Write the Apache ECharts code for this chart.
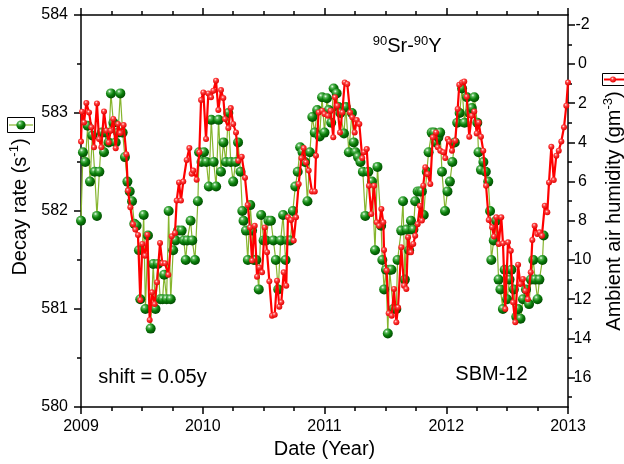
<!DOCTYPE html>
<html>
<head>
<meta charset="utf-8">
<title>90Sr-90Y decay rate and ambient air humidity</title>
<script src="https://cdn.jsdelivr.net/npm/echarts@6/dist/echarts.min.js"></script>
<style>
  html, body { margin: 0; padding: 0; background: #fff; }
  #chart { width: 624px; height: 464px; }
</style>
</head>
<body>
<div id="chart"></div>
<script>
// Weekly decay-rate measurements (decimal year, s^-1)
const decayDates = [
  2009.000, 2009.016, 2009.035, 2009.055, 2009.074, 2009.093, 2009.112, 2009.131, 2009.151, 2009.170,
  2009.189, 2009.208, 2009.227, 2009.246, 2009.266, 2009.285, 2009.304, 2009.323, 2009.342, 2009.361,
  2009.381, 2009.400, 2009.419, 2009.438, 2009.457, 2009.476, 2009.487, 2009.515, 2009.529, 2009.550,
  2009.572, 2009.593, 2009.612, 2009.632, 2009.651, 2009.670, 2009.683, 2009.703, 2009.720, 2009.737,
  2009.757, 2009.777, 2009.797, 2009.827, 2009.845, 2009.860, 2009.873, 2009.900, 2009.914, 2009.936,
  2009.960, 2009.970, 2009.990, 2010.010, 2010.030, 2010.050, 2010.070, 2010.090, 2010.110, 2010.130,
  2010.150, 2010.170, 2010.190, 2010.210, 2010.230, 2010.250, 2010.270, 2010.290, 2010.310, 2010.325,
  2010.335, 2010.355, 2010.370, 2010.390, 2010.405, 2010.420, 2010.440, 2010.460, 2010.480, 2010.500,
  2010.520, 2010.540, 2010.560, 2010.580, 2010.600, 2010.620, 2010.640, 2010.660, 2010.680, 2010.700,
  2010.720, 2010.740, 2010.760, 2010.780, 2010.800, 2010.820, 2010.840, 2010.860, 2010.880, 2010.900,
  2010.920, 2010.940, 2010.960, 2010.980, 2011.000, 2011.020, 2011.035, 2011.055, 2011.075, 2011.100,
  2011.115, 2011.130, 2011.160, 2011.175, 2011.200, 2011.225, 2011.240, 2011.255, 2011.275, 2011.295,
  2011.315, 2011.335, 2011.360, 2011.390, 2011.415, 2011.435, 2011.465, 2011.475, 2011.490, 2011.505,
  2011.520, 2011.535, 2011.550, 2011.565, 2011.590, 2011.600, 2011.630, 2011.645, 2011.660, 2011.675,
  2011.695, 2011.710, 2011.730, 2011.745, 2011.765, 2011.785, 2011.800, 2011.815, 2011.840, 2011.855,
  2011.880, 2011.900, 2011.915, 2011.935, 2011.950, 2011.965, 2011.990, 2012.010, 2012.030, 2012.050,
  2012.070, 2012.090, 2012.110, 2012.130, 2012.150, 2012.170, 2012.190, 2012.210, 2012.230, 2012.255,
  2012.265, 2012.285, 2012.305, 2012.325, 2012.345, 2012.360, 2012.370, 2012.390, 2012.410, 2012.430,
  2012.445, 2012.465, 2012.480, 2012.500, 2012.520, 2012.535, 2012.555, 2012.575, 2012.590, 2012.610,
  2012.630, 2012.655, 2012.680, 2012.695, 2012.715, 2012.730, 2012.750, 2012.765, 2012.790, 2012.800
];
const decayRates = [
  581.90, 582.60, 582.50, 582.87, 582.30, 582.77, 582.40, 581.95, 582.40, 582.80,
  582.60, 582.80, 582.70, 583.20, 582.90, 582.70, 582.80, 583.20, 582.80, 582.55,
  582.30, 582.20, 582.10, 581.87, 581.85, 581.60, 581.10, 581.96, 581.00, 581.75,
  580.80, 581.46, 581.00, 581.46, 581.10, 581.10, 581.35, 581.10, 582.00, 581.10,
  581.60, 581.70, 581.80, 581.80, 581.70, 581.50, 581.70, 581.90, 581.70, 581.50,
  582.10, 582.60, 582.50, 582.60, 582.50, 582.25, 582.93, 582.50, 582.25, 582.93,
  582.40, 582.70, 582.50, 583.00, 582.50, 582.30, 582.50, 582.70, 582.40, 582.00,
  581.90, 581.80, 581.50, 582.06, 581.80, 581.50, 581.50, 581.20, 581.96, 581.70,
  581.70, 581.90, 581.90, 581.70, 581.50, 581.20, 581.70, 581.96, 581.50, 581.70,
  581.70, 582.00, 582.25, 582.40, 582.65, 582.60, 582.50, 582.10, 582.60, 582.96,
  582.80, 583.03, 582.76, 583.16, 582.80, 583.15, 583.03, 582.90, 583.25, 583.20,
  583.06, 583.00, 582.79, 583.06, 582.60, 583.00, 582.70, 582.60, 582.55, 582.50,
  582.40, 581.95, 582.40, 582.30, 581.60, 582.45, 581.85, 581.50, 581.20, 581.40,
  580.75, 581.40, 581.40, 581.00, 581.00, 581.50, 581.80, 582.10, 581.30, 581.81,
  581.60, 581.90, 581.81, 582.10, 582.20, 582.20, 582.20, 581.96, 582.40, 582.60,
  582.80, 582.80, 582.70, 582.75, 582.80, 582.40, 582.00, 582.20, 582.30, 582.50,
  582.70, 582.90, 583.00, 583.25, 582.90, 583.16, 583.00, 583.05, 583.16, 582.90,
  582.60, 582.42, 582.50, 582.40, 582.30, 582.00, 581.50, 581.70, 581.90, 581.30,
  581.20, 581.00, 581.40, 581.10, 581.30, 581.40, 581.20, 580.92, 581.00, 580.90,
  581.10, 581.20, 581.05, 581.30, 581.50, 581.30, 581.10, 581.30, 581.50, 581.75
];

// Ambient air humidity (decimal year, g m^-3), shifted by 0.05 y
const humidDates = [
  2009.000, 2009.008, 2009.025, 2009.044, 2009.066, 2009.085, 2009.107, 2009.131, 2009.148, 2009.167,
  2009.189, 2009.208, 2009.227, 2009.244, 2009.265, 2009.285, 2009.304, 2009.323, 2009.350, 2009.372,
  2009.386, 2009.405, 2009.427, 2009.446, 2009.468, 2009.487, 2009.503, 2009.526, 2009.545, 2009.564,
  2009.583, 2009.605, 2009.624, 2009.649, 2009.668, 2009.690, 2009.717, 2009.745, 2009.772, 2009.786,
  2009.805, 2009.821, 2009.840, 2009.868, 2009.890, 2009.909, 2009.922, 2009.950, 2009.972, 2009.986,
  2010.005, 2010.027, 2010.046, 2010.068, 2010.087, 2010.109, 2010.128, 2010.150, 2010.169, 2010.183,
  2010.210, 2010.230, 2010.250, 2010.273, 2010.292, 2010.320, 2010.347, 2010.369, 2010.388, 2010.405,
  2010.427, 2010.446, 2010.465, 2010.487, 2010.509, 2010.528, 2010.547, 2010.569, 2010.591, 2010.610,
  2010.629, 2010.645, 2010.665, 2010.686, 2010.700, 2010.725, 2010.747, 2010.766, 2010.788, 2010.810,
  2010.829, 2010.848, 2010.870, 2010.897, 2010.920, 2010.930, 2010.952, 2010.980, 2011.000, 2011.028,
  2011.050, 2011.072, 2011.086, 2011.105, 2011.127, 2011.146, 2011.166, 2011.187, 2011.210, 2011.228,
  2011.248, 2011.265, 2011.286, 2011.310, 2011.324, 2011.347, 2011.365, 2011.384, 2011.407, 2011.428,
  2011.448, 2011.467, 2011.483, 2011.489, 2011.510, 2011.527, 2011.552, 2011.571, 2011.590, 2011.604,
  2011.631, 2011.653, 2011.672, 2011.686, 2011.710, 2011.729, 2011.745, 2011.765, 2011.784, 2011.800,
  2011.811, 2011.828, 2011.847, 2011.869, 2011.889, 2011.916, 2011.930, 2011.951, 2011.976, 2011.992,
  2012.012, 2012.025, 2012.047, 2012.074, 2012.094, 2012.107, 2012.130, 2012.148, 2012.168, 2012.189,
  2012.209, 2012.230, 2012.250, 2012.266, 2012.285, 2012.304, 2012.327, 2012.349, 2012.376, 2012.392,
  2012.411, 2012.431, 2012.452, 2012.466, 2012.485, 2012.507, 2012.530, 2012.548, 2012.567, 2012.590,
  2012.608, 2012.630, 2012.649, 2012.670, 2012.694, 2012.707, 2012.726, 2012.748, 2012.767, 2012.786,
  2012.809, 2012.830, 2012.844, 2012.863, 2012.883, 2012.904, 2012.924, 2012.945, 2012.967, 2012.986,
  2013.000
];
const humidValues = [
  3.96, 2.43, 2.98, 1.99, 2.47, 3.23, 4.25, 2.01, 3.83, 4.25,
  2.42, 3.40, 4.00, 3.40, 2.80, 4.30, 3.06, 3.52, 3.11, 4.60,
  6.46, 7.31, 8.17, 8.45, 8.72, 12.04, 9.18, 9.78, 8.71, 13.06,
  11.65, 12.25, 11.14, 9.13, 10.17, 10.17, 10.75, 8.79, 8.62, 6.97,
  6.04, 6.97, 6.00, 4.90, 4.29, 5.60, 5.44, 5.90, 4.50, 1.84,
  1.45, 3.83, 1.50, 1.70, 1.36, 0.85, 2.35, 1.33, 1.74, 2.81,
  3.27, 2.25, 3.06, 3.49, 4.93, 4.73, 5.80, 7.20, 8.34, 10.03,
  8.25, 10.85, 10.38, 10.63, 8.34, 9.60, 11.09, 12.84, 12.79, 11.06,
  12.38, 12.16, 10.63, 11.31, 7.82, 7.96, 9.00, 7.82, 6.12, 4.80,
  4.29, 5.02, 5.44, 6.50, 6.50, 4.68, 2.47, 2.38, 2.55, 2.64,
  2.38, 3.74, 1.70, 2.13, 3.49, 2.47, 0.94, 1.02, 2.47, 2.72,
  3.49, 2.86, 3.06, 4.80, 4.50, 4.34, 6.21, 7.65, 6.21, 8.08,
  8.25, 7.40, 8.08, 9.49, 10.54, 12.72, 12.84, 11.48, 13.18, 12.42,
  9.35, 11.31, 11.48, 8.84, 9.61, 9.18, 8.76, 8.17, 7.23, 7.99,
  6.21, 5.27, 5.61, 6.12, 3.74, 3.49, 4.25, 4.42, 4.50, 4.80,
  3.83, 3.95, 4.42, 3.91, 2.30, 1.06, 0.94, 0.89, 1.67, 3.71,
  2.64, 2.42, 3.54, 2.98, 3.71, 4.42, 6.21, 7.96, 8.33, 8.80,
  7.82, 9.18, 7.82, 9.15, 12.50, 9.10, 9.53, 12.16, 13.18, 10.24,
  11.22, 10.97, 11.57, 12.00, 10.63, 8.98, 8.25, 8.67, 8.59, 8.76,
  7.23, 7.57, 6.04, 4.22, 5.92, 4.68, 4.42, 3.95, 3.23, 2.13,
  0.94
];

// Axis tick values
const yearTicks = [2009, 2010, 2011, 2012, 2013];
const humidMajorTicks = [-2, 0, 2, 4, 6, 8, 10, 12, 14, 16];
const humidMinorTicks = [-1, 1, 3, 5, 7, 9, 11, 13, 15, 17];

const FONT = 'Liberation Sans, Arial, Helvetica, sans-serif';
const GREEN_LINE = '#86b52e';
const RED = '#ff0000';

const sphereGreen = () => new echarts.graphic.RadialGradient(0.36, 0.3, 0.72, [
  { offset: 0, color: '#f4fff4' },
  { offset: 0.22, color: '#58b858' },
  { offset: 0.55, color: '#0b800b' },
  { offset: 1, color: '#004a00' }
]);
const sphereRed = () => new echarts.graphic.RadialGradient(0.4, 0.35, 0.65, [
  { offset: 0, color: '#ffe4e4' },
  { offset: 0.35, color: '#ff4040' },
  { offset: 1, color: '#e00000' }
]);

const decayData = decayDates.map((d, i) => [d, decayRates[i]]);
const humidData = humidDates.map((d, i) => [d, humidValues[i]]);

const axisLine = { show: true, onZero: false, lineStyle: { color: '#000', width: 1.5 } };
const majorTick = { show: true, inside: false, length: 7, lineStyle: { color: '#000', width: 1.5 } };
const minorTickStyle = { color: '#000', width: 1.5 };
const labelStyle = { color: '#000', fontSize: 16, fontFamily: FONT };
const nameRich = {
  n: { fontSize: 20, lineHeight: 24, fontFamily: FONT, color: '#000' },
  s: { fontSize: 13, lineHeight: 10, verticalAlign: 'top', fontFamily: FONT, color: '#000' }
};

const chart = echarts.init(document.getElementById('chart'), null, { renderer: 'canvas' });

chart.setOption({
  animation: false,
  backgroundColor: '#fff',
  grid: { left: 81, right: 56, top: 15, bottom: 57, containLabel: false, outerBoundsMode: 'none' },
  xAxis: [
    {
      type: 'value', min: yearTicks[0], max: yearTicks[yearTicks.length - 1], interval: 1,
      position: 'bottom',
      name: 'Date (Year)', nameLocation: 'middle', nameGap: 31,
      nameTextStyle: { fontSize: 20, fontFamily: FONT, color: '#000' },
      axisLine: axisLine, axisTick: majorTick,
      minorTick: { show: true, splitNumber: 4, length: 4, lineStyle: minorTickStyle },
      axisLabel: Object.assign({ margin: 12, formatter: v => String(v) }, labelStyle),
      splitLine: { show: false }
    },
    {
      type: 'value', min: yearTicks[0], max: yearTicks[yearTicks.length - 1], interval: 1,
      position: 'top',
      axisLine: axisLine, axisTick: majorTick,
      minorTick: { show: true, splitNumber: 4, length: 4, lineStyle: minorTickStyle },
      axisLabel: { show: false },
      splitLine: { show: false }
    }
  ],
  yAxis: [
    {
      type: 'value', min: 580, max: 584, interval: 1, position: 'left',
      name: '{n|Decay rate (s}{s|-1}{n|)}', nameLocation: 'middle', nameGap: 44, nameRotate: 90,
      nameTextStyle: { rich: nameRich, padding: [0, 0, 0, 8] },
      axisLine: axisLine, axisTick: majorTick,
      minorTick: { show: true, splitNumber: 2, length: 4, lineStyle: minorTickStyle },
      axisLabel: Object.assign({ margin: 13 }, labelStyle),
      splitLine: { show: false }
    },
    {
      type: 'value', min: -2.5, max: 17.5, inverse: true, position: 'right',
      name: '{n|Ambient air humidity (gm}{s|-3}{n|)}', nameLocation: 'middle', nameGap: 33, nameRotate: 90,
      nameTextStyle: { rich: nameRich },
      axisLine: axisLine,
      axisTick: Object.assign({ customValues: humidMajorTicks }, majorTick),
      axisLabel: Object.assign({ customValues: humidMajorTicks, margin: 14.5, align: 'center' }, labelStyle),
      splitLine: { show: false }
    },
    {
      // minor ticks of the humidity axis
      type: 'value', min: -2.5, max: 17.5, inverse: true, position: 'right',
      axisLine: { show: false },
      axisTick: { show: true, inside: false, length: 4, customValues: humidMinorTicks, lineStyle: minorTickStyle },
      axisLabel: { show: false },
      splitLine: { show: false }
    }
  ],
  series: [
    {
      name: 'Decay rate',
      type: 'line',
      xAxisIndex: 0, yAxisIndex: 0,
      data: decayData,
      clip: false,
      symbol: 'circle', symbolSize: 10,
      lineStyle: { color: GREEN_LINE, width: 1.2 },
      itemStyle: { color: sphereGreen(), borderWidth: 0 },
      emphasis: { disabled: true },
      z: 2
    },
    {
      name: 'Ambient air humidity',
      type: 'line',
      xAxisIndex: 0, yAxisIndex: 1,
      data: humidData,
      clip: false,
      symbol: 'circle', symbolSize: 6,
      lineStyle: { color: RED, width: 2.2 },
      itemStyle: { color: sphereRed(), borderWidth: 0 },
      emphasis: { disabled: true },
      z: 3
    }
  ],
  graphic: [
    // key for the decay-rate series, beside the left axis title
    { type: 'rect', shape: { x: 7.5, y: 117.5, width: 27, height: 15 },
      style: { fill: '#fff', stroke: '#000', lineWidth: 1 }, z: 10 },
    { type: 'line', shape: { x1: 9, y1: 125, x2: 33, y2: 125 },
      style: { stroke: GREEN_LINE, lineWidth: 1.2 }, z: 11 },
    { type: 'circle', shape: { cx: 21, cy: 125, r: 4.6 },
      style: { fill: sphereGreen() }, z: 12 },
    // key for the humidity series, beside the right axis title
    { type: 'rect', shape: { x: 602.5, y: 73.5, width: 26, height: 12 },
      style: { fill: '#fff', stroke: '#000', lineWidth: 1 }, z: 10 },
    { type: 'line', shape: { x1: 604, y1: 79.5, x2: 624, y2: 79.5 },
      style: { stroke: RED, lineWidth: 2 }, z: 11 },
    { type: 'circle', shape: { cx: 613, cy: 79.5, r: 3 },
      style: { fill: sphereRed() }, z: 12 },
    // annotations
    { type: 'text', z: 20,
      style: {
        x: 372.7, y: 46.6,
        text: '{s|90}{n|Sr-}{s|90}{n|Y}',
        rich: {
          n: { fontSize: 20, lineHeight: 24, fontFamily: FONT, fill: '#000' },
          s: { fontSize: 13, lineHeight: 10, verticalAlign: 'top', fontFamily: FONT, fill: '#000' }
        },
        align: 'left', verticalAlign: 'middle', textAlign: 'left', textVerticalAlign: 'middle'
      } },
    { type: 'text', z: 20,
      style: {
        x: 98.3, y: 377, text: 'shift = 0.05y',
        font: '20px ' + FONT, fill: '#000',
        align: 'left', verticalAlign: 'middle', textAlign: 'left', textVerticalAlign: 'middle'
      } },
    { type: 'text', z: 20,
      style: {
        x: 455.3, y: 374.8, text: 'SBM-12',
        font: '20px ' + FONT, fill: '#000',
        align: 'left', verticalAlign: 'middle', textAlign: 'left', textVerticalAlign: 'middle'
      } }
  ]
});
</script>
</body>
</html>
